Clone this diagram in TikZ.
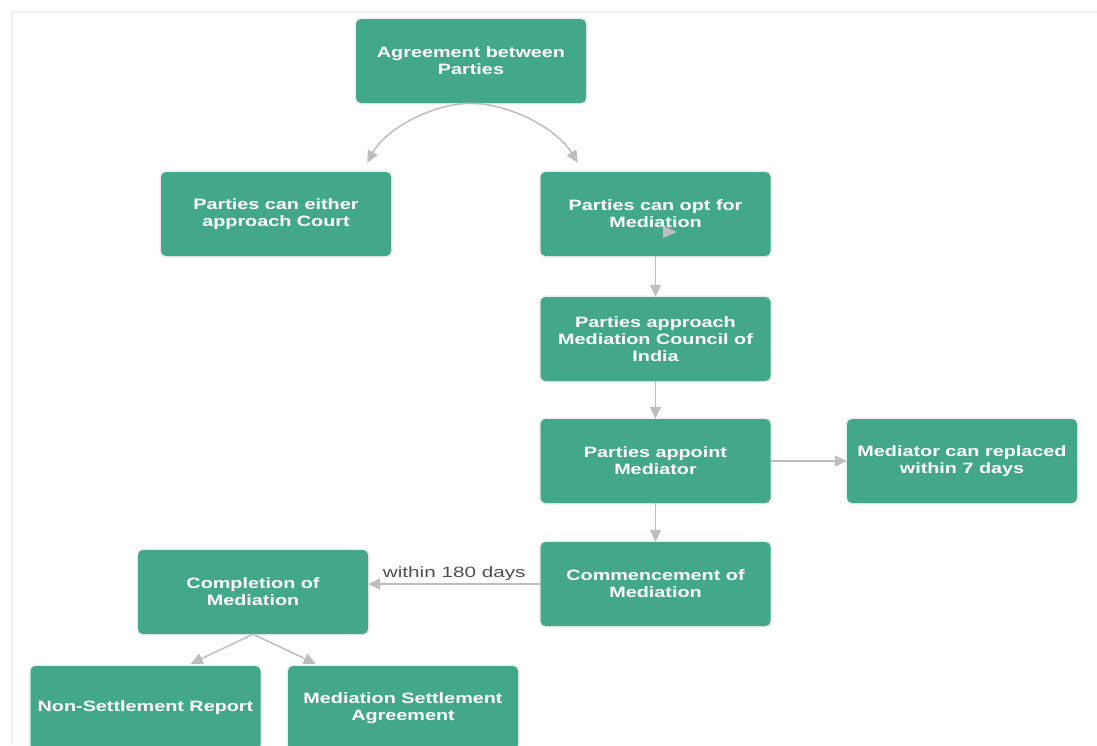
\documentclass[tikz,border=0pt]{standalone}
\usepackage{fontspec}
\usetikzlibrary{arrows.meta}
\newfontfamily\boxfont[FakeStretch=1.32]{Liberation Sans}
\newfontfamily\lblfont[FakeStretch=1.38]{Liberation Sans}
\definecolor{boxgreen}{HTML}{43A789}
\definecolor{arrowgray}{HTML}{BEBEBE}
\definecolor{framegray}{HTML}{ECEFF3}
\definecolor{lblgray}{HTML}{505050}
\tikzset{
  stepbox/.style={rectangle, rounded corners=5pt, fill=boxgreen,
    preaction={draw=black!7, line width=3pt},
    minimum width=230pt, minimum height=84pt, align=center,
    text=white, font=\boxfont\bfseries\fontsize{15pt}{17pt}\selectfont},
  conn/.style={draw=arrowgray, line width=1.5pt,
    -{Triangle[length=12pt,width=11pt,fill=arrowgray]}},
  lbl/.style={text=lblgray, font=\lblfont\fontsize{15pt}{17pt}\selectfont}
}
\begin{document}
\begin{tikzpicture}[x=1pt,y=-1pt]
\path[use as bounding box, clip] (0,0) rectangle (1097,745);
\fill[white] (0,0) rectangle (1097,745);
\draw[framegray, line width=1.5pt] (12,745) -- (12,12) -- (1097,12);

\node[stepbox] (agree) at (471,61) {Agreement between\\Parties};
\node[stepbox] (court) at (276,214) {Parties can either\\approach Court};
\node[stepbox] (opt) at (655.5,214) {Parties can opt for\\Mediation};
\node[stepbox] (council) at (655.5,339) {Parties approach\\Mediation Council of\\India};
\node[stepbox] (appoint) at (655.5,461) {Parties appoint\\Mediator};
\node[stepbox] (replaced) at (962,461) {Mediator can replaced\\within 7 days};
\node[stepbox] (commence) at (655.5,584) {Commencement of\\Mediation};
\node[stepbox] (complete) at (253,592) {Completion of\\Mediation};
\node[stepbox] (nonsettle) at (145.5,708) {Non-Settlement Report};
\node[stepbox] (settle) at (403,708) {Mediation Settlement\\Agreement};

% stray arrowhead inside the "opt" box
\fill[arrowgray] (663,226) -- (677,232) -- (663,238) -- cycle;

\draw[conn] (agree.south) .. controls (430,104) and (385,130) .. ([xshift=-24pt,yshift=9pt]court.north east);
\draw[conn] (agree.south) .. controls (512,104) and (558,130) .. ([xshift=-193pt,yshift=9pt]opt.north east);
\draw[conn] (opt.south) -- (council.north);
\draw[conn] (council.south) -- (appoint.north);
\draw[conn] (appoint.south) -- (commence.north);
\draw[conn] (appoint.east) -- (replaced.west);
\draw[conn] (commence.west) -- node[lbl, above, inner sep=3pt] {within 180 days} (commence.west -| complete.east);
\draw[conn] (complete.south) -- ([xshift=-70pt,yshift=2pt]nonsettle.north east);
\draw[conn] (complete.south) -- ([xshift=28pt,yshift=2pt]settle.north west);
\end{tikzpicture}
\end{document}
